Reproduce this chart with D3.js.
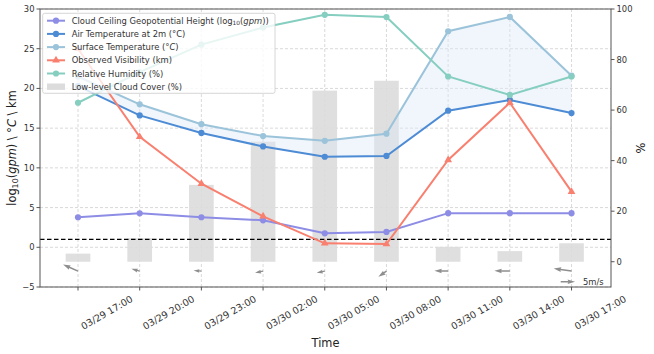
<!DOCTYPE html>
<html>
<head>
<meta charset="utf-8">
<script src="https://cdn.jsdelivr.net/npm/d3@7"></script>
<style>
body { margin: 0; background: #fff; }
text { font-family: "DejaVu Sans", sans-serif; }
</style>
</head>
<body>
<svg id="chart" width="654" height="354"></svg>
<script>
// time labels (one per observation)
var times = ["03/29 17:00", "03/29 20:00", "03/29 23:00", "03/30 02:00", "03/30 05:00",
             "03/30 08:00", "03/30 11:00", "03/30 14:00", "03/30 17:00"];
// left axis series
var ceiling = [3.78, 4.28, 3.78, 3.4, 1.76, 1.93, 4.3, 4.3, 4.3];
var airTemp = [20.3, 16.6, 14.4, 12.7, 11.4, 11.5, 17.2, 18.55, 16.9];
var surfTemp = [21.5, 18.0, 15.5, 14.0, 13.4, 14.3, 27.2, 29.0, 21.6];
var visibility = [25.0, 13.9, 8.0, 3.9, 0.5, 0.4, 11.0, 18.2, 7.0];
// right axis series (%)
var humidity = [62.9, 75, 85.9, 92.7, 97.7, 96.8, 73.3, 66.0, 73.3];
var cloudCover = [3.2, 9.3, 30.4, 47.5, 67.7, 71.6, 5.9, 4.2, 7.3];
// wind components (m/s)
var windU = [-5.2, -2.9, -2.7, -2.8, -2.8, -2.8, -4.8, -5.4, -6.2];
var windV = [2.3, 0.8, 0.2, -0.6, -0.6, -2.0, 0.1, 0.1, 0.9];
var leftTicks = [-5, 0, 5, 10, 15, 20, 25, 30];
var rightTicks = [0, 20, 40, 60, 80, 100];

var svg = d3.select("#chart");
var margin = {top: 9, right: 43, bottom: 67, left: 40},
    width = 654 - margin.left - margin.right,
    height = 354 - margin.top - margin.bottom;
var pL = margin.left, pR = margin.left + width,
    pT = margin.top, pB = margin.top + height;

var x = d3.scaleLinear().domain([-0.616, 8.64]).range([pL, pR]);
var yL = d3.scaleLinear().domain([-5, 30]).range([pB, pT]);
var yR = d3.scaleLinear().domain([-10, 100]).range([pB, pT]);

var c = {
  ceiling: "#8d8de6",
  air: "#4d8bd4",
  surf: "#9bc3da",
  vis: "#f97f6f",
  rh: "#85cec0",
  bar: "#dcdcdc",
  wind: "#8e8e8e"
};

// grid
var grid = svg.append("g");
leftTicks.forEach(function (t) {
  grid.append("line").attr("x1", pL).attr("x2", pR)
    .attr("y1", yL(t)).attr("y2", yL(t))
    .attr("stroke", "#cfcfcf").attr("stroke-width", 0.8).attr("stroke-dasharray", "3,2");
});
times.forEach(function (t, i) {
  grid.append("line").attr("x1", x(i)).attr("x2", x(i))
    .attr("y1", pT).attr("y2", pB)
    .attr("stroke", "#cfcfcf").attr("stroke-width", 0.8).attr("stroke-dasharray", "3,2");
});

// cloud cover bars (right axis)
svg.append("g").selectAll("rect").data(cloudCover).enter().append("rect")
  .attr("x", function (d, i) { return x(i - 0.2); })
  .attr("width", x(0.4) - x(0))
  .attr("y", function (d) { return yR(d); })
  .attr("height", function (d) { return yR(0) - yR(d); })
  .attr("fill", c.bar).attr("opacity", 0.9);

// fill between temperatures
svg.append("path").datum(airTemp)
  .attr("d", d3.area()
    .x(function (d, i) { return x(i); })
    .y0(function (d) { return yL(d); })
    .y1(function (d, i) { return yL(surfTemp[i]); }))
  .attr("fill", "#dceaf7").attr("opacity", 0.42);

// reference line at 1
svg.append("line").attr("x1", pL).attr("x2", pR)
  .attr("y1", yL(1)).attr("y2", yL(1))
  .attr("stroke", "#000").attr("stroke-width", 1.2).attr("stroke-dasharray", "4.5,2.5");

function drawSeries(data, scale, color, marker) {
  var g = svg.append("g");
  g.append("path").datum(data)
    .attr("d", d3.line().x(function (d, i) { return x(i); }).y(function (d) { return scale(d); }))
    .attr("fill", "none").attr("stroke", color).attr("stroke-width", 2);
  if (marker === "tri") {
    g.selectAll("path.m").data(data).enter().append("path").attr("class", "m")
      .attr("d", d3.symbol(d3.symbolTriangle, 26)())
      .attr("transform", function (d, i) { return "translate(" + x(i) + "," + scale(d) + ")"; })
      .attr("fill", color);
  } else {
    g.selectAll("circle").data(data).enter().append("circle")
      .attr("cx", function (d, i) { return x(i); })
      .attr("cy", function (d) { return scale(d); })
      .attr("r", 3.1).attr("fill", color);
  }
}
drawSeries(ceiling, yL, c.ceiling);
drawSeries(airTemp, yL, c.air);
drawSeries(surfTemp, yL, c.surf);
drawSeries(visibility, yL, c.vis, "tri");
drawSeries(humidity, yR, c.rh);

// wind arrows (quiver, pivot at tail)
var pxPerMs = 2.87, shaftW = 1.5, headLen = 7.5, headAx = 6.8, headW = 4.6, minLen = 10;
function arrowPath(len) {
  var L = Math.max(len, minLen), s = len / L;
  var pts = [[0, -shaftW / 2], [L - headAx, -shaftW / 2], [L - headLen, -headW / 2], [L, 0],
             [L - headLen, headW / 2], [L - headAx, shaftW / 2], [0, shaftW / 2]];
  return "M" + pts.map(function (p) { return (p[0] * s) + "," + (p[1] * s); }).join("L") + "Z";
}
var windY = yL(-3);
var wg = svg.append("g");
windU.forEach(function (u, i) {
  var v = windV[i];
  var len = Math.sqrt(u * u + v * v) * pxPerMs;
  var ang = Math.atan2(-v, u) * 180 / Math.PI;
  wg.append("path").attr("d", arrowPath(len))
    .attr("transform", "translate(" + x(i) + "," + windY + ") rotate(" + ang + ")")
    .attr("fill", c.wind);
});
// quiver key
var keyX = 560.7, keyY = yL(-4.33);
wg.append("path").attr("d", arrowPath(5 * pxPerMs))
  .attr("transform", "translate(" + keyX + "," + keyY + ")").attr("fill", c.wind);
svg.append("text").attr("x", 583).attr("y", keyY + 3).attr("font-size", 8.4)
  .attr("fill", "#333").text("5m/s");

// spines
svg.append("rect").attr("x", pL).attr("y", pT).attr("width", width).attr("height", height)
  .attr("fill", "none").attr("stroke", "#555").attr("stroke-width", 1);

// left axis
var ga = svg.append("g");
leftTicks.forEach(function (t) {
  ga.append("line").attr("x1", pL - 3.5).attr("x2", pL).attr("y1", yL(t)).attr("y2", yL(t))
    .attr("stroke", "#555");
  ga.append("text").attr("x", pL - 5.5).attr("y", yL(t) + 3).attr("text-anchor", "end")
    .attr("font-size", 8.4).attr("fill", "#333").text(t < 0 ? "\u2212" + Math.abs(t) : t);
});
// right axis
rightTicks.forEach(function (t) {
  ga.append("line").attr("x1", pR).attr("x2", pR + 3.5).attr("y1", yR(t)).attr("y2", yR(t))
    .attr("stroke", "#555");
  ga.append("text").attr("x", pR + 5.5).attr("y", yR(t) + 3).attr("text-anchor", "start")
    .attr("font-size", 8.4).attr("fill", "#333").text(t);
});
// bottom axis
var fs = 9.5, asc = 0.73 * fs;
times.forEach(function (t, i) {
  ga.append("line").attr("x1", x(i)).attr("x2", x(i)).attr("y1", pB).attr("y2", pB + 3.5)
    .attr("stroke", "#555");
  var tx = ga.append("text").attr("font-size", fs).attr("fill", "#333").text(t);
  var L = tx.node().getComputedTextLength();
  var x0 = x(i) + 2 + 0.5 * asc, y0 = pB + 8 + 0.5 * L + 0.866 * asc;
  tx.attr("transform", "translate(" + x0 + "," + y0 + ") rotate(-30)");
});

svg.append("text").attr("x", (pL + pR) / 2).attr("y", 347).attr("text-anchor", "middle")
  .attr("font-size", 11.4).attr("fill", "#222").text("Time");

// y labels
var yl = svg.append("text").attr("text-anchor", "middle").attr("font-size", 11.4).attr("fill", "#222")
  .attr("transform", "translate(16," + ((pT + pB) / 2) + ") rotate(-90)");
yl.append("tspan").text("log");
yl.append("tspan").attr("font-size", "0.7em").attr("dy", "0.3em").text("10");
yl.append("tspan").attr("dy", "-0.21em").text("(");
yl.append("tspan").attr("font-style", "italic").text("gpm");
yl.append("tspan").text(") \\ \u00b0");
yl.append("tspan").attr("font-style", "italic").text("C");
yl.append("tspan").text(" \\ km");

svg.append("text").attr("text-anchor", "middle").attr("font-size", 11.4).attr("fill", "#222")
  .attr("transform", "translate(645," + ((pT + pB) / 2) + ") rotate(-90)").text("%");

// legend
var lg = svg.append("g");
lg.append("rect").attr("x", 42.7).attr("y", 13.3).attr("width", 232.3).attr("height", 80)
  .attr("rx", 2).attr("fill", "#fff").attr("fill-opacity", 0.8).attr("stroke", "#cccccc").attr("stroke-width", 0.8);
var entries = [
  {color: c.ceiling, kind: "o", parts: [{t: "Cloud Ceiling Geopotential Height (log"}, {t: "10", sub: true}, {t: "("}, {t: "gpm", it: true}, {t: "))"}]},
  {color: c.air, kind: "o", parts: [{t: "Air Temperature at 2m (\u00b0C)"}]},
  {color: c.surf, kind: "o", parts: [{t: "Surface Temperature (\u00b0"}, {t: "C", it: true}, {t: ")"}]},
  {color: c.vis, kind: "tri", parts: [{t: "Observed Visibility (km)"}]},
  {color: c.rh, kind: "o", parts: [{t: "Relative Humidity (%)"}]},
  {color: c.bar, kind: "bar", parts: [{t: "Low-level Cloud Cover (%)"}]}
];
entries.forEach(function (e, k) {
  var yy = 20.7 + k * 13.2;
  if (e.kind === "bar") {
    lg.append("rect").attr("x", 47).attr("y", yy - 3.2).attr("width", 18).attr("height", 6.4).attr("fill", e.color);
  } else {
    lg.append("line").attr("x1", 47).attr("x2", 65).attr("y1", yy).attr("y2", yy)
      .attr("stroke", e.color).attr("stroke-width", 2);
    if (e.kind === "tri") {
      lg.append("path").attr("d", d3.symbol(d3.symbolTriangle, 26)())
        .attr("transform", "translate(56," + yy + ")").attr("fill", e.color);
    } else {
      lg.append("circle").attr("cx", 56).attr("cy", yy).attr("r", 3.1).attr("fill", e.color);
    }
  }
  var tx = lg.append("text").attr("x", 71.7).attr("y", yy + 3).attr("font-size", 8.4).attr("fill", "#333");
  e.parts.forEach(function (p, j) {
    var ts = tx.append("tspan").text(p.t);
    if (p.it) ts.attr("font-style", "italic");
    if (p.sub) ts.attr("font-size", "0.7em").attr("dy", "0.3em");
    if (j > 0 && e.parts[j - 1].sub) ts.attr("dy", "-0.21em");
  });
});
</script>
</body>
</html>
